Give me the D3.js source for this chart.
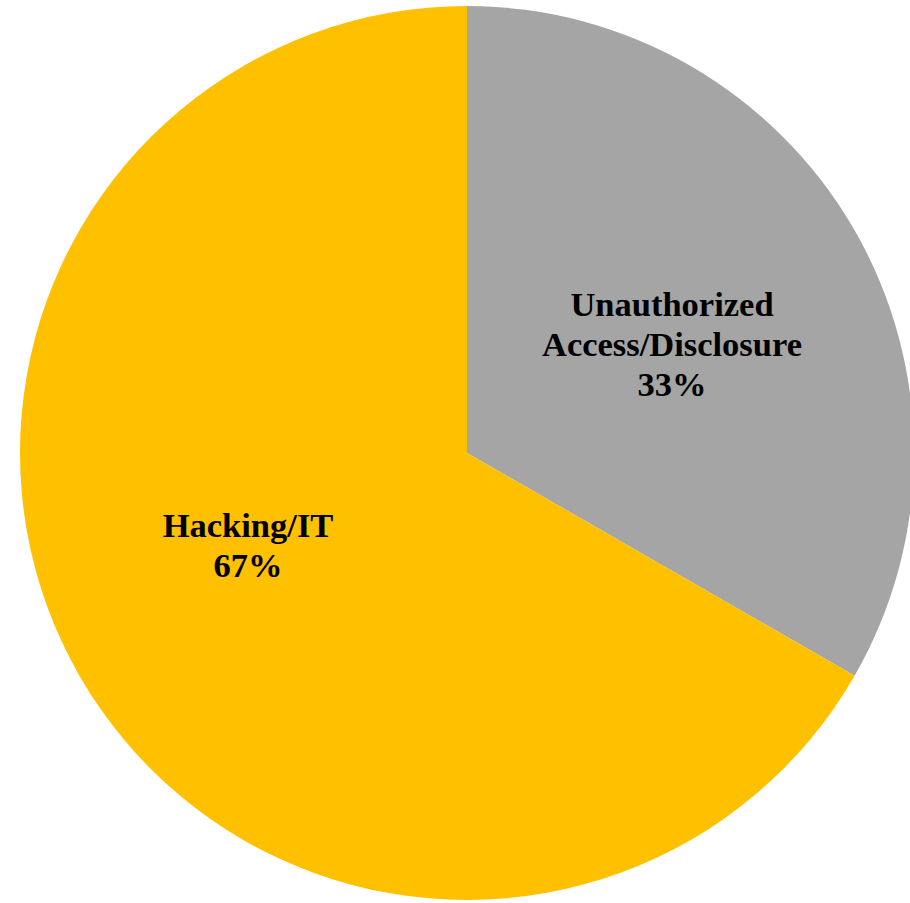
<!DOCTYPE html>
<html><head><meta charset="utf-8">
<script src="https://cdn.jsdelivr.net/npm/d3@7"></script>
<style>html,body{margin:0;padding:0;background:#fff;}</style>
</head><body>
<svg id="chart" width="910" height="903"></svg>
<script>
const categories = ["Unauthorized Access/Disclosure", "Hacking/IT"];
const labelLines = [["Unauthorized", "Access/Disclosure", "33%"], ["Hacking/IT", "67%"]];
const values = [33.3, 66.7];
const colors = ["#A5A5A5", "#FFC000"];

const svg = d3.select("#chart");
const cx = 467, cy = 453, r = 447;
const g = svg.append("g").attr("transform", `translate(${cx},${cy})`);
const pie = d3.pie().sort(null).value(d => d)(values);
const arc = d3.arc().innerRadius(0).outerRadius(r);
g.selectAll("path").data(pie).join("path")
  .attr("d", arc).attr("fill", (d, i) => colors[i]);

const labelPos = [[205, -109], [-219, 92]];
const fs = 34.5, lh = 40;
pie.forEach((d, i) => {
  const lines = labelLines[i];
  const t = g.append("text")
    .attr("text-anchor", "middle")
    .attr("font-family", "'Liberation Serif', 'Times New Roman', serif")
    .attr("font-weight", "bold")
    .attr("font-size", fs)
    .attr("fill", "#000");
  const [x, y] = labelPos[i];
  const y0 = y - (lines.length - 1) * lh / 2;
  lines.forEach((l, j) => {
    t.append("tspan").attr("x", x).attr("y", y0 + j * lh).attr("dy", "0.35em").text(l);
  });
});
</script>
</body></html>
